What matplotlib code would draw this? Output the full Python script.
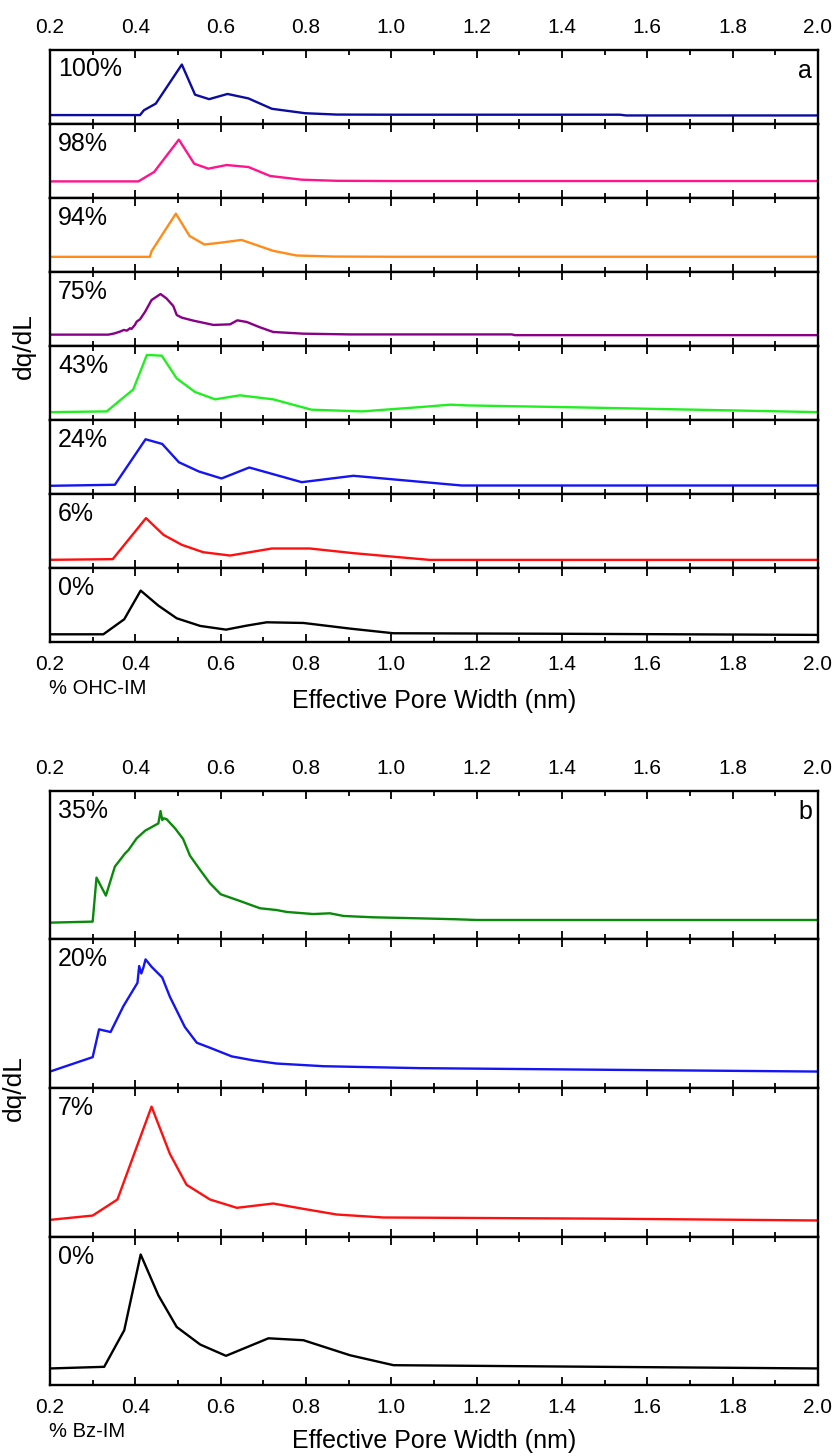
import matplotlib
matplotlib.use("Agg")
import matplotlib.pyplot as plt
from matplotlib.ticker import MultipleLocator, FormatStrFormatter

plt.rcParams['font.family'] = ['Liberation Sans', 'DejaVu Sans']

W, H = 837, 1456

# pore width (nm) and dq/dL (arbitrary, fraction of each strip height)
# --- panel a: % OHC-IM ---
a100_x = [0.2, 0.411, 0.420, 0.448, 0.509, 0.540, 0.573, 0.616, 0.665, 0.720, 0.798, 0.872, 1.0, 1.536, 1.55, 2.0]
a100_y = [0.115, 0.115, 0.18, 0.27, 0.797, 0.39, 0.33, 0.40, 0.34, 0.20, 0.14, 0.122, 0.12, 0.12, 0.11, 0.11]

a98_x = [0.2, 0.407, 0.444, 0.502, 0.538, 0.571, 0.614, 0.665, 0.716, 0.790, 0.872, 1.0, 2.0]
a98_y = [0.22, 0.22, 0.347, 0.784, 0.459, 0.392, 0.441, 0.414, 0.293, 0.243, 0.228, 0.225, 0.225]

a94_x = [0.2, 0.434, 0.438, 0.495, 0.527, 0.562, 0.602, 0.649, 0.723, 0.778, 0.864, 1.0, 2.0]
a94_y = [0.202, 0.202, 0.278, 0.785, 0.484, 0.368, 0.395, 0.43, 0.283, 0.22, 0.206, 0.203, 0.203]

a75_x = [0.2, 0.337, 0.352, 0.364, 0.373, 0.380, 0.3875, 0.391, 0.399, 0.403, 0.411, 0.423, 0.438,
         0.459, 0.473, 0.489, 0.497, 0.509, 0.536, 0.583, 0.622, 0.639, 0.661, 0.692, 0.723, 0.794,
         0.903, 1.282, 1.29, 2.0]
a75_y = [0.152, 0.152, 0.170, 0.193, 0.215, 0.206, 0.238, 0.229, 0.283, 0.327, 0.359, 0.462, 0.619,
         0.70, 0.641, 0.538, 0.417, 0.381, 0.341, 0.283, 0.291, 0.345, 0.323, 0.251, 0.188, 0.165,
         0.155, 0.155, 0.145, 0.145]

a43_x = [0.2, 0.333, 0.364, 0.395, 0.427, 0.462, 0.497, 0.540, 0.587, 0.645, 0.723, 0.813, 0.931,
         1.067, 1.138, 1.177, 1.403, 1.598, 1.801, 2.0]
a43_y = [0.106, 0.116, 0.265, 0.411, 0.878, 0.868, 0.561, 0.378, 0.279, 0.333, 0.279, 0.139, 0.116,
         0.174, 0.207, 0.197, 0.174, 0.152, 0.129, 0.106]

a24_x = [0.2, 0.352, 0.424, 0.463, 0.502, 0.549, 0.602, 0.667, 0.790, 0.911, 1.165, 2.0]
a24_y = [0.112, 0.126, 0.74, 0.677, 0.43, 0.305, 0.211, 0.359, 0.161, 0.247, 0.116, 0.116]

a6_x = [0.2, 0.347, 0.425, 0.466, 0.509, 0.559, 0.622, 0.720, 0.809, 0.911, 1.09, 2.0]
a6_y = [0.113, 0.122, 0.676, 0.45, 0.315, 0.216, 0.171, 0.266, 0.266, 0.203, 0.112, 0.112]

a0_x = [0.2, 0.325, 0.374, 0.4125, 0.454, 0.497, 0.552, 0.6125, 0.661, 0.708, 0.794, 0.903, 1.005, 1.4, 2.0]
a0_y = [0.108, 0.108, 0.311, 0.698, 0.495, 0.324, 0.221, 0.171, 0.225, 0.27, 0.261, 0.185, 0.122, 0.115, 0.10]

a_labels = ['100%', '98%', '94%', '75%', '43%', '24%', '6%', '0%']
a_x = [a100_x, a98_x, a94_x, a75_x, a43_x, a24_x, a6_x, a0_x]
a_y = [a100_y, a98_y, a94_y, a75_y, a43_y, a24_y, a6_y, a0_y]
a_colors = ['#0c0ca0', '#ff148c', '#ff8c1a', '#880088', '#22ee22', '#1414f5', '#ff1010', '#000000']

# --- panel b: % Bz-IM ---
b35_x = [0.2, 0.300, 0.309, 0.331, 0.352, 0.376, 0.384, 0.403, 0.423, 0.454, 0.459, 0.463, 0.467,
         0.473, 0.493, 0.512, 0.528, 0.552, 0.575, 0.600, 0.645, 0.692, 0.731, 0.755, 0.817, 0.856,
         0.888, 0.958, 1.067, 1.15, 1.2, 2.0]
b35_y = [0.112, 0.119, 0.415, 0.294, 0.489, 0.578, 0.601, 0.679, 0.731, 0.780, 0.863, 0.803, 0.814,
         0.809, 0.747, 0.675, 0.563, 0.466, 0.377, 0.303, 0.258, 0.209, 0.197, 0.184, 0.170, 0.175,
         0.157, 0.148, 0.141, 0.135, 0.13, 0.13]

b20_x = [0.2, 0.300, 0.315, 0.342, 0.372, 0.405, 0.409, 0.414, 0.419, 0.424, 0.438, 0.463, 0.481,
         0.516, 0.544, 0.575, 0.626, 0.677, 0.731, 0.841, 0.942, 1.067, 1.5, 2.0]
b20_y = [0.110, 0.207, 0.394, 0.376, 0.550, 0.707, 0.820, 0.770, 0.811, 0.865, 0.815, 0.743, 0.613,
         0.410, 0.304, 0.270, 0.212, 0.185, 0.164, 0.146, 0.140, 0.133, 0.122, 0.11]

b7_x = [0.2, 0.300, 0.358, 0.403, 0.438, 0.481, 0.520, 0.575, 0.638, 0.723, 0.794, 0.872, 0.981, 1.5, 2.0]
b7_y = [0.112, 0.141, 0.249, 0.601, 0.874, 0.556, 0.348, 0.249, 0.193, 0.222, 0.186, 0.148, 0.128, 0.12, 0.108]

b0_x = [0.2, 0.327, 0.374, 0.4125, 0.454, 0.497, 0.552, 0.6125, 0.712, 0.794, 0.903, 1.005, 1.4, 2.0]
b0_y = [0.112, 0.123, 0.369, 0.879, 0.604, 0.391, 0.273, 0.197, 0.315, 0.302, 0.201, 0.134, 0.125, 0.112]

b_labels = ['35%', '20%', '7%', '0%']
b_x = [b35_x, b20_x, b7_x, b0_x]
b_y = [b35_y, b20_y, b7_y, b0_y]
b_colors = ['#0a8a0a', '#1414f5', '#ff1010', '#000000']


def strip(fig, top, height):
    return fig.add_axes([50 / W, 1 - (top + height) / H, 768 / W, height / H])


def style(ax, first, last):
    ax.set_xlim(0.2, 2.0)
    ax.set_ylim(0, 1)
    ax.set_yticks([])
    ax.xaxis.set_major_locator(MultipleLocator(0.2))
    ax.xaxis.set_minor_locator(MultipleLocator(0.1))
    ax.xaxis.set_major_formatter(FormatStrFormatter('%.1f'))
    ax.tick_params(axis='x', which='both', direction='in', top=True, bottom=True,
                   labelbottom=last, labeltop=first, labelsize=15, pad=9, width=1.3)
    ax.tick_params(axis='x', which='major', length=5.5)
    ax.tick_params(axis='x', which='minor', length=3.5)
    for s in ax.spines.values():
        s.set_linewidth(1.7)


def panel(fig, top, height, labels, xs, ys, colors, letter, note, ylab_x, xlab_dy):
    n = len(labels)
    axes = []
    for i in range(n):
        ax = strip(fig, top + i * height, height)
        style(ax, i == 0, i == n - 1)
        ax.plot(xs[i], ys[i], color=colors[i], lw=1.7)
        ax.text(8 / 768, 1 - 8 / height, labels[i], transform=ax.transAxes,
                fontsize=18, va='top', ha='left')
        axes.append(ax)
    axes[0].text(1 - 6 / 768, 1 - 28 / height, letter, transform=axes[0].transAxes,
                 fontsize=18, va='baseline', ha='right')
    bot = top + n * height
    mid = (top + bot) / 2
    fig.text(ylab_x / W, 1 - mid / H, 'dq/dL', rotation=90, fontsize=19, ha='center', va='center')
    fig.text(434 / W, 1 - (bot + xlab_dy) / H, 'Effective Pore Width (nm)', fontsize=18,
             ha='center', va='center')
    fig.text(49 / W, 1 - (bot + 46) / H, note, fontsize=14.5, ha='left', va='center')


fig = plt.figure(figsize=(W / 100, H / 100), dpi=100)
panel(fig, 49.5, 74.1, a_labels, a_x, a_y, a_colors, 'a', '% OHC-IM', 24, 59)
panel(fig, 790.7, 148.6, b_labels, b_x, b_y, b_colors, 'b', '% Bz-IM', 14, 56)
fig.savefig('out.png', dpi=100)
